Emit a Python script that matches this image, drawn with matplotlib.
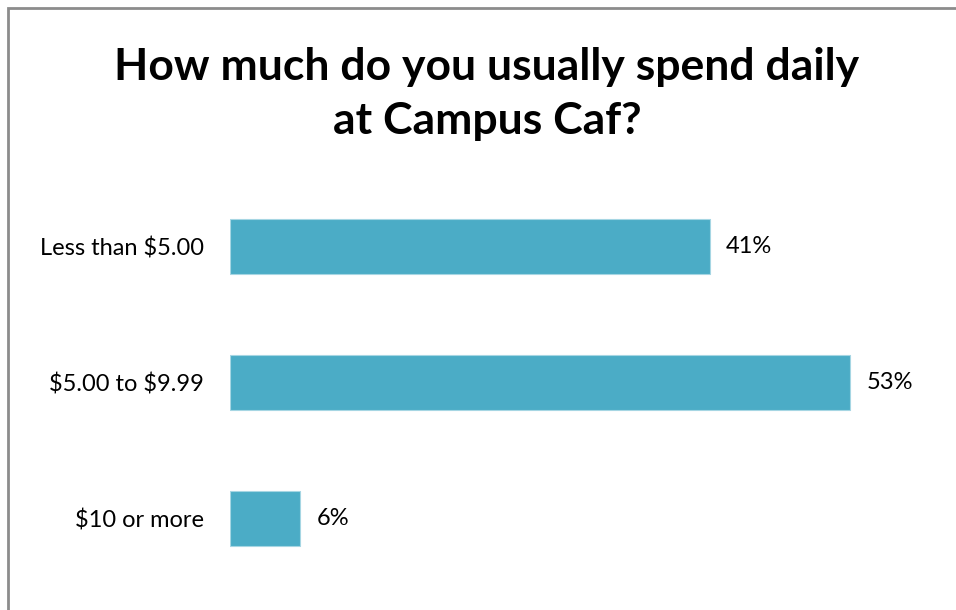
import matplotlib.pyplot as plt
from matplotlib.patches import Rectangle

categories = ["Less than $5.00", "$5.00 to $9.99", "$10 or more"]
shares = [41, 53, 6]
bar_color = "#4BACC6"

plt.rcParams['font.family'] = ['Lato', 'DejaVu Sans']
plt.rcParams['text.parse_math'] = False

W, H = 956, 610
fig = plt.figure(figsize=(W / 100, H / 100), dpi=100)

# chart-area frame (only top/left edges visible)
fig.patches.append(Rectangle((8 / W, -0.1), 1.2, 1 - 8 / H + 0.1,
                             transform=fig.transFigure, fill=False,
                             edgecolor="#8c8c8c", linewidth=2))

ax = fig.add_axes([230 / W, (H - 586.5) / H, 702 / W, 408 / H])
y = list(range(len(categories)))
bars = ax.barh(y, shares, height=0.4, color=bar_color, edgecolor="#a6d6e3", linewidth=0.8)
ax.set_xlim(0, 60)
ax.set_ylim(len(categories) - 0.5, -0.5)
ax.set_yticks(y)
ax.set_yticklabels(categories, fontsize=17)
ax.tick_params(axis="y", length=0, pad=19)
ax.set_xticks([])
for s in ax.spines.values():
    s.set_visible(False)

for b, v in zip(bars, shares):
    ax.text(b.get_width() + 1.4, b.get_y() + b.get_height() / 2, f"{v}%",
            va="center", ha="left", fontsize=17)

fig.text(487 / W, 1 - 94 / H, "How much do you usually spend daily\nat Campus Caf?",
         ha="center", va="center", fontsize=32, fontweight="bold",
         linespacing=1.42)

fig.savefig("out.png", dpi=100)
